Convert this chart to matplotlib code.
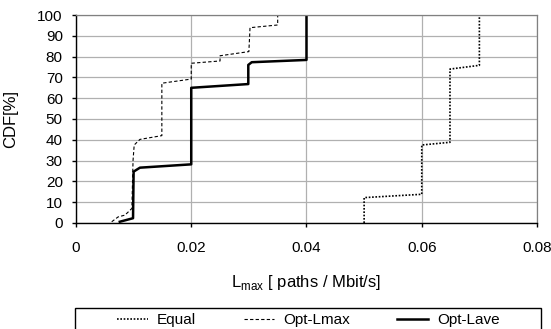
import numpy as np
import matplotlib.pyplot as plt
from matplotlib.patches import Rectangle

plt.rcParams['font.family'] = ['Liberation Sans', 'DejaVu Sans']
plt.rcParams['font.size'] = 11

# CDF curves (x = L_max, y = CDF %)
equal_x = [0.0500, 0.0500, 0.0600, 0.0600, 0.0649, 0.0649, 0.0700, 0.0700]
equal_y = [0.0, 12.2, 13.8, 37.5, 38.8, 74.0, 75.8, 100.0]

lmax_x = [0.0062, 0.0073, 0.0085, 0.0097, 0.0099, 0.0101, 0.0111, 0.0149, 0.0149,
          0.0200, 0.0200, 0.0250, 0.0250, 0.0300, 0.0302, 0.0350, 0.0350]
lmax_y = [0.6, 2.9, 3.8, 7.0, 30.0, 37.5, 40.2, 42.0, 67.2,
          69.2, 76.8, 77.9, 80.4, 82.4, 93.9, 95.2, 100.0]

lave_x = [0.0076, 0.0099, 0.0100, 0.0111, 0.0200, 0.0200, 0.0299, 0.0299,
          0.0305, 0.0400, 0.0400]
lave_y = [0.6, 2.3, 24.7, 26.6, 28.2, 65.0, 66.8, 76.0,
          77.3, 78.4, 100.0]

fig = plt.figure(figsize=(5.51, 3.29), dpi=100)
ax = fig.add_axes([0.1379, 0.3222, 0.9746 - 0.1379, 0.9544 - 0.3222])

ax.plot(equal_x, equal_y, color='black', linestyle=(0, (1, 1)), linewidth=1.2, label='Equal')
ax.plot(lmax_x, lmax_y, color='black', linestyle=(0, (3, 2)), linewidth=0.8, label='Opt-Lmax')
ax.plot(lave_x, lave_y, color='black', linestyle='-', linewidth=1.8, label='Opt-Lave')

ax.set_xlim(0, 0.08)
ax.set_ylim(0, 100)
ax.set_xticks([0, 0.02, 0.04, 0.06, 0.08])
ax.set_xticklabels(['0', '0.02', '0.04', '0.06', '0.08'])
ax.set_yticks(np.arange(0, 101, 10))
ax.grid(color='#b0b0b0', linewidth=0.9)
ax.set_axisbelow(True)
for s in ['top', 'right']:
    ax.spines[s].set_color('#808080')
    ax.spines[s].set_linewidth(0.9)
for s in ['left', 'bottom']:
    ax.spines[s].set_linewidth(1.0)
ax.tick_params(direction='out', length=3, width=1.0, labelsize=11)
ax.tick_params(axis='x', pad=10)
ax.tick_params(axis='y', pad=6.5)

ax.set_ylabel('CDF[%]', fontsize=12)
ax.yaxis.set_label_coords(-0.125, 0.5)
ax.set_xlabel(r'L$_{\mathregular{max}}$ [ paths / Mbit/s]', fontsize=12, labelpad=13)

# legend box runs off the bottom edge of the figure
fig.patches.append(Rectangle((75 / 551, -0.05), (541 - 75) / 551, 0.05 + (1 - 308 / 329),
                             transform=fig.transFigure, fill=False, edgecolor='black',
                             linewidth=1.0, clip_on=False))
fig.legend(loc='center', bbox_to_anchor=(0.56, 1 - 320 / 329), ncol=3, frameon=False,
           fontsize=11, handlelength=2.0, handletextpad=0.6, columnspacing=3.1,
           borderpad=0, borderaxespad=0)

fig.savefig('out.png', dpi=100)
